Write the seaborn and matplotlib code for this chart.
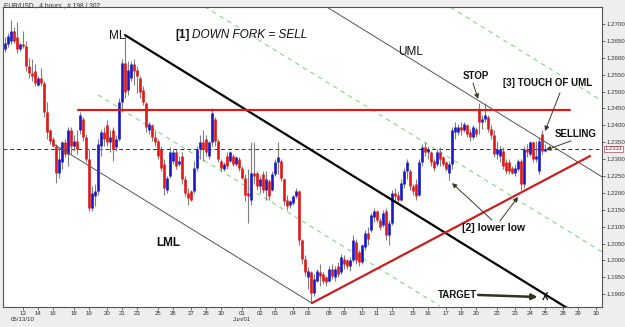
import numpy as np
import pandas as pd
import matplotlib
matplotlib.use("Agg")
import matplotlib.pyplot as plt
import seaborn as sns
from matplotlib.transforms import blended_transform_factory

# ---------------- data (EUR/USD, 4 hour bars) ----------------
opens = [1.2625, 1.2640, 1.2650, 1.2680, 1.2660, 1.2625, 1.2640, 1.2635, 1.2575, 1.2555,
         1.2560, 1.2520, 1.2540, 1.2525, 1.2440, 1.2385, 1.2360, 1.2340, 1.2260, 1.2290,
         1.2350, 1.2315, 1.2385, 1.2340, 1.2355, 1.2385, 1.2420, 1.2365, 1.2300, 1.2155,
         1.2190, 1.2205, 1.2340, 1.2380, 1.2400, 1.2350, 1.2385, 1.2335, 1.2360, 1.2470,
         1.2585, 1.2505, 1.2540, 1.2580, 1.2565, 1.2540, 1.2505, 1.2465, 1.2385, 1.2400,
         1.2365, 1.2355, 1.2330, 1.2285, 1.2210, 1.2250, 1.2295, 1.2320, 1.2285, 1.2310,
         1.2240, 1.2200, 1.2205, 1.2205, 1.2275, 1.2330, 1.2350, 1.2360, 1.2310, 1.2350,
         1.2420, 1.2355, 1.2295, 1.2270, 1.2310, 1.2295, 1.2310, 1.2285, 1.2300, 1.2275,
         1.2245, 1.2200, 1.2180, 1.2260, 1.2260, 1.2220, 1.2255, 1.2210, 1.2235, 1.2210,
         1.2255, 1.2290, 1.2295, 1.2240, 1.2180, 1.2165, 1.2170, 1.2190, 1.2205, 1.2060,
         1.2005, 1.1950, 1.1965, 1.1905, 1.1940, 1.1965, 1.1960, 1.1950, 1.1940, 1.1975,
         1.1950, 1.1985, 1.1965, 1.2005, 1.2000, 1.1985, 1.2000, 1.2055, 1.2025, 1.1995,
         1.2040, 1.2080, 1.2090, 1.2130, 1.2145, 1.2120, 1.2105, 1.2145, 1.2075, 1.2110,
         1.2200, 1.2195, 1.2180, 1.2225, 1.2265, 1.2265, 1.2220, 1.2225, 1.2195, 1.2290,
         1.2335, 1.2320, 1.2320, 1.2295, 1.2285, 1.2320, 1.2305, 1.2290, 1.2260, 1.2285,
         1.2380, 1.2380, 1.2395, 1.2385, 1.2400, 1.2380, 1.2365, 1.2390, 1.2445, 1.2410,
         1.2420, 1.2425, 1.2390, 1.2370, 1.2315, 1.2310, 1.2325, 1.2290, 1.2290, 1.2275,
         1.2260, 1.2270, 1.2295, 1.2225, 1.2330, 1.2315, 1.2350, 1.2300, 1.2265, 1.2375,
         1.2325]
highs = [1.2662, 1.2673, 1.2712, 1.2690, 1.2705, 1.2645, 1.2680, 1.2650, 1.2600, 1.2595,
         1.2580, 1.2545, 1.2570, 1.2530, 1.2470, 1.2390, 1.2365, 1.2345, 1.2335, 1.2355,
         1.2360, 1.2395, 1.2395, 1.2370, 1.2385, 1.2440, 1.2425, 1.2375, 1.2330, 1.2220,
         1.2225, 1.2360, 1.2390, 1.2395, 1.2415, 1.2385, 1.2395, 1.2370, 1.2480, 1.2595,
         1.2667, 1.2590, 1.2590, 1.2595, 1.2575, 1.2545, 1.2515, 1.2470, 1.2410, 1.2405,
         1.2385, 1.2360, 1.2340, 1.2300, 1.2250, 1.2335, 1.2330, 1.2330, 1.2310, 1.2320,
         1.2250, 1.2215, 1.2210, 1.2295, 1.2340, 1.2370, 1.2385, 1.2370, 1.2355, 1.2450,
         1.2425, 1.2360, 1.2300, 1.2290, 1.2320, 1.2325, 1.2315, 1.2310, 1.2305, 1.2280,
         1.2255, 1.2270, 1.2350, 1.2350, 1.2265, 1.2250, 1.2265, 1.2265, 1.2240, 1.2265,
         1.2300, 1.2350, 1.2300, 1.2245, 1.2195, 1.2180, 1.2195, 1.2215, 1.2210, 1.2065,
         1.2015, 1.1980, 1.1970, 1.1960, 1.1975, 1.1990, 1.1965, 1.1955, 1.1985, 1.1990,
         1.1985, 1.1995, 1.2020, 1.2015, 1.2005, 1.2010, 1.2075, 1.2065, 1.2030, 1.2050,
         1.2090, 1.2100, 1.2140, 1.2155, 1.2150, 1.2125, 1.2150, 1.2155, 1.2120, 1.2210,
         1.2215, 1.2205, 1.2240, 1.2275, 1.2300, 1.2270, 1.2225, 1.2240, 1.2300, 1.2345,
         1.2350, 1.2340, 1.2325, 1.2300, 1.2330, 1.2335, 1.2310, 1.2295, 1.2295, 1.2395,
         1.2410, 1.2405, 1.2410, 1.2410, 1.2405, 1.2390, 1.2400, 1.2395, 1.2466, 1.2430,
         1.2466, 1.2430, 1.2400, 1.2385, 1.2355, 1.2340, 1.2335, 1.2300, 1.2300, 1.2280,
         1.2285, 1.2300, 1.2300, 1.2340, 1.2345, 1.2355, 1.2355, 1.2355, 1.2365, 1.2386,
         1.2345]
lows = [1.2617, 1.2632, 1.2640, 1.2645, 1.2615, 1.2620, 1.2630, 1.2560, 1.2540, 1.2530,
        1.2515, 1.2515, 1.2515, 1.2425, 1.2360, 1.2345, 1.2335, 1.2230, 1.2245, 1.2270,
        1.2305, 1.2280, 1.2315, 1.2325, 1.2315, 1.2375, 1.2355, 1.2290, 1.2145, 1.2145,
        1.2160, 1.2195, 1.2310, 1.2340, 1.2340, 1.2320, 1.2295, 1.2325, 1.2355, 1.2440,
        1.2480, 1.2490, 1.2530, 1.2520, 1.2495, 1.2480, 1.2460, 1.2380, 1.2375, 1.2355,
        1.2340, 1.2300, 1.2265, 1.2195, 1.2200, 1.2245, 1.2285, 1.2270, 1.2280, 1.2225,
        1.2190, 1.2165, 1.2175, 1.2200, 1.2265, 1.2300, 1.2295, 1.2310, 1.2300, 1.2340,
        1.2340, 1.2290, 1.2265, 1.2265, 1.2270, 1.2290, 1.2280, 1.2280, 1.2265, 1.2240,
        1.2175, 1.2110, 1.2165, 1.2225, 1.2210, 1.2200, 1.2200, 1.2180, 1.2180, 1.2205,
        1.2250, 1.2255, 1.2235, 1.2165, 1.2150, 1.2155, 1.2165, 1.2185, 1.2045, 1.1990,
        1.1955, 1.1915, 1.1874, 1.1895, 1.1935, 1.1925, 1.1930, 1.1925, 1.1935, 1.1945,
        1.1940, 1.1950, 1.1960, 1.1975, 1.1975, 1.1970, 1.1995, 1.1990, 1.1985, 1.1990,
        1.2030, 1.2045, 1.2085, 1.2115, 1.2115, 1.2090, 1.2100, 1.2060, 1.2045, 1.2105,
        1.2175, 1.2170, 1.2175, 1.2215, 1.2240, 1.2210, 1.2195, 1.2180, 1.2190, 1.2280,
        1.2310, 1.2300, 1.2280, 1.2265, 1.2280, 1.2280, 1.2280, 1.2265, 1.2238, 1.2270,
        1.2360, 1.2370, 1.2370, 1.2380, 1.2365, 1.2355, 1.2360, 1.2365, 1.2375, 1.2390,
        1.2410, 1.2380, 1.2360, 1.2305, 1.2300, 1.2290, 1.2270, 1.2255, 1.2255, 1.2255,
        1.2250, 1.2265, 1.2209, 1.2215, 1.2305, 1.2310, 1.2290, 1.2290, 1.2255, 1.2315,
        1.2320]
closes = [1.2645, 1.2665, 1.2680, 1.2650, 1.2625, 1.2640, 1.2635, 1.2575, 1.2555, 1.2545,
          1.2525, 1.2540, 1.2525, 1.2440, 1.2380, 1.2355, 1.2340, 1.2260, 1.2300, 1.2350,
          1.2315, 1.2385, 1.2340, 1.2355, 1.2330, 1.2430, 1.2365, 1.2300, 1.2155, 1.2200,
          1.2205, 1.2345, 1.2380, 1.2360, 1.2350, 1.2365, 1.2330, 1.2360, 1.2470, 1.2585,
          1.2500, 1.2565, 1.2580, 1.2560, 1.2545, 1.2500, 1.2470, 1.2395, 1.2405, 1.2365,
          1.2350, 1.2310, 1.2275, 1.2215, 1.2245, 1.2320, 1.2320, 1.2280, 1.2295, 1.2240,
          1.2200, 1.2185, 1.2180, 1.2275, 1.2330, 1.2350, 1.2330, 1.2320, 1.2350, 1.2435,
          1.2355, 1.2300, 1.2275, 1.2285, 1.2280, 1.2320, 1.2285, 1.2305, 1.2275, 1.2245,
          1.2195, 1.2190, 1.2260, 1.2250, 1.2220, 1.2240, 1.2210, 1.2240, 1.2190, 1.2255,
          1.2290, 1.2305, 1.2245, 1.2175, 1.2160, 1.2175, 1.2190, 1.2205, 1.2060, 1.2005,
          1.1965, 1.1970, 1.1905, 1.1945, 1.1970, 1.1955, 1.1940, 1.1935, 1.1975, 1.1955,
          1.1975, 1.1960, 1.2010, 1.1990, 1.1985, 1.2000, 1.2060, 1.2000, 1.1995, 1.2045,
          1.2080, 1.2065, 1.2135, 1.2145, 1.2120, 1.2100, 1.2140, 1.2075, 1.2110, 1.2200,
          1.2190, 1.2180, 1.2230, 1.2265, 1.2290, 1.2220, 1.2205, 1.2190, 1.2290, 1.2335,
          1.2320, 1.2330, 1.2290, 1.2275, 1.2320, 1.2300, 1.2285, 1.2270, 1.2285, 1.2385,
          1.2395, 1.2395, 1.2385, 1.2405, 1.2375, 1.2365, 1.2395, 1.2375, 1.2410, 1.2420,
          1.2430, 1.2390, 1.2370, 1.2315, 1.2330, 1.2330, 1.2280, 1.2265, 1.2265, 1.2260,
          1.2275, 1.2295, 1.2225, 1.2330, 1.2320, 1.2350, 1.2300, 1.2310, 1.2355, 1.2325,
          1.2331]

tick_bars = [6, 11, 16, 23, 28, 34, 39, 44, 51, 56, 62, 67, 72, 79, 85, 90, 96, 101,
             108, 113, 119, 124, 129, 136, 141, 147, 152, 157, 164, 170, 175, 180, 186, 191, 197]
tick_labels = ["13\n05/13/10", "14", "16", "18", "19", "20", "21", "23", "25", "26", "27", "28", "30",
               "01\nJun/01", "02", "03", "04", "06", "08", "09", "10", "11", "13", "15", "16", "17",
               "18", "20", "22", "23", "24", "25", "28", "29", "30"]
price_ticks = [1.1900, 1.1950, 1.2000, 1.2050, 1.2100, 1.2150, 1.2200, 1.2250, 1.2300,
               1.2350, 1.2400, 1.2450, 1.2500, 1.2550, 1.2600, 1.2650, 1.2700]
last_price = 1.2331

# Andrews pitchfork and trend lines (bar index, price)
ml_bars, ml_prices = [40, 190], [1.2667, 1.1845]
uml_bars, uml_prices = [100, 200], [1.2790, 1.2242]
lml_bars, lml_prices = [16.7, 102.3], [1.2342, 1.1874]
g1_bars, g1_prices = [64, 200], [1.2765, 1.2020]
g2_bars, g2_prices = [146, 200], [1.2763, 1.2467]
g3_bars, g3_prices = [31, 145], [1.2490, 1.1865]
res_bars, res_prices = [24.3, 188.3], [1.2445, 1.2445]
sup_bars, sup_prices = [102.3, 195], [1.1874, 1.2309]

# ---------------- plotting ----------------
sns.set_style("white")
plt.rcParams["font.family"] = ["Liberation Sans", "DejaVu Sans"]

df = pd.DataFrame(dict(bar=np.arange(len(closes)), open=opens, high=highs, low=lows, close=closes))
up = df["close"] >= df["open"]

fig = plt.figure(figsize=(6.25, 3.27), dpi=100, facecolor="#eeeeee")
ax = fig.add_axes([3 / 625, 20 / 327, 599 / 625, 300 / 327])
ax.set_facecolor("white")

ax.vlines(df["bar"], df["low"], df["high"], color="#7f7f7f", lw=0.8, zorder=2)
ax.vlines(df["bar"][up], df["open"][up], df["close"][up], color="#1818c8", lw=1.9, zorder=2.5)
ax.vlines(df["bar"][~up], df["open"][~up], df["close"][~up], color="#e01818", lw=1.9, zorder=2.5)

ax.axhline(last_price, color="#2a2a50", lw=0.7, ls=(0, (4, 3)), zorder=1.5)

green = "#86d486"
for bx, py in [(g1_bars, g1_prices), (g2_bars, g2_prices), (g3_bars, g3_prices)]:
    ax.plot(bx, py, color=green, lw=0.8, ls=(0, (4, 4)), zorder=1.8)
ax.plot(uml_bars, uml_prices, color="#555555", lw=0.7, zorder=3)
ax.plot(lml_bars, lml_prices, color="#555555", lw=0.7, zorder=3)
ax.plot(ml_bars, ml_prices, color="black", lw=1.6, zorder=3)
ax.plot(res_bars, res_prices, color="#dd1a1a", lw=1.6, zorder=3)
ax.plot(sup_bars, sup_prices, color="#c82020", lw=1.6, zorder=3)

ax.set_xlim(-0.667, 199)
ax.set_ylim(1.18624, 1.27501)

ax.yaxis.tick_right()
ax.set_yticks(price_ticks)
ax.set_yticklabels([f"{v:.4f}" for v in price_ticks])
ax.set_xticks(tick_bars)
ax.set_xticklabels(tick_labels, linespacing=1.25)
ax.tick_params(axis="both", labelsize=4.4, length=2, width=0.6, color="#555555",
               labelcolor="#333333", direction="out", pad=1)
ax.tick_params(axis="y", right=True, left=False)
ax.tick_params(axis="x", bottom=True)
for s in ax.spines.values():
    s.set_color("#555555")
    s.set_linewidth(0.8)

trans = blended_transform_factory(ax.transAxes, ax.transData)
ax.text(1.0045, last_price - 0.0001, f"{last_price:.4f}", transform=trans, fontsize=4.2, va="center",
        ha="left", color="#802020",
        bbox=dict(boxstyle="square,pad=0.1", fc="white", ec="#b04a5a", lw=0.5),
        zorder=5, clip_on=False)

fig.text(4 / 625, 1 - 2 / 327, "EUR/USD , 4 hours , # 198 / 302", fontsize=4.8, va="top",
         ha="left", color="#333333")

# annotations
ax.text(37.3, 1.2664, "ML", fontsize=8.5, ha="center", va="center", color="#111111")
ax.text(56.7, 1.2667, "[1]", fontsize=8.5, ha="left", va="center", color="#111111", fontweight="bold")
ax.text(62.3, 1.2667, "DOWN FORK = SELL", fontsize=8.5, ha="left", va="center", color="#111111",
        fontstyle="italic")
ax.text(135.3, 1.2617, "UML", fontsize=8.5, ha="center", va="center", color="#111111")
ax.text(54.3, 1.2052, "LML", fontsize=8.5, ha="center", va="center", color="#111111", fontweight="bold")
ax.text(157, 1.2546, "STOP", fontsize=7, ha="center", va="center", color="#111111", fontweight="bold")
ax.text(181, 1.2525, "[3] TOUCH OF UML", fontsize=7, ha="center", va="center", color="#111111",
        fontweight="bold")
ax.text(190.3, 1.2374, "SELLING", fontsize=7, ha="center", va="center", color="#111111",
        fontweight="bold")
ax.text(162.7, 1.2096, "[2] lower low", fontsize=7.5, ha="center", va="center", color="#111111",
        fontweight="bold")
ax.text(150.7, 1.1898, "TARGET", fontsize=7, ha="center", va="center", color="#111111",
        fontweight="bold")
ax.text(180, 1.1892, "X", fontsize=7, ha="center", va="center", color="#111111", fontweight="bold")

arrow = dict(arrowstyle="-|>", color="#3a3a2a", lw=0.7, mutation_scale=7, shrinkA=0, shrinkB=0)
ax.annotate("", xy=(157.7, 1.2478), xytext=(156, 1.2525), arrowprops=arrow, zorder=4)
ax.annotate("", xy=(180, 1.2383), xytext=(185, 1.2496), arrowprops=arrow, zorder=4)
ax.annotate("", xy=(180.3, 1.2327), xytext=(188.7, 1.2354), arrowprops=arrow, zorder=4)
ax.annotate("", xy=(149, 1.2229), xytext=(162.3, 1.2120), arrowprops=arrow, zorder=4)
ax.annotate("", xy=(171, 1.2188), xytext=(165, 1.2117), arrowprops=arrow, zorder=4)
ax.annotate("", xy=(177.5, 1.1892), xytext=(157.7, 1.1898),
            arrowprops=dict(arrowstyle="-|>", color="#33331a", lw=1.8, mutation_scale=8,
                            shrinkA=0, shrinkB=0), zorder=4)

fig.savefig("out.png", dpi=100, facecolor=fig.get_facecolor())
